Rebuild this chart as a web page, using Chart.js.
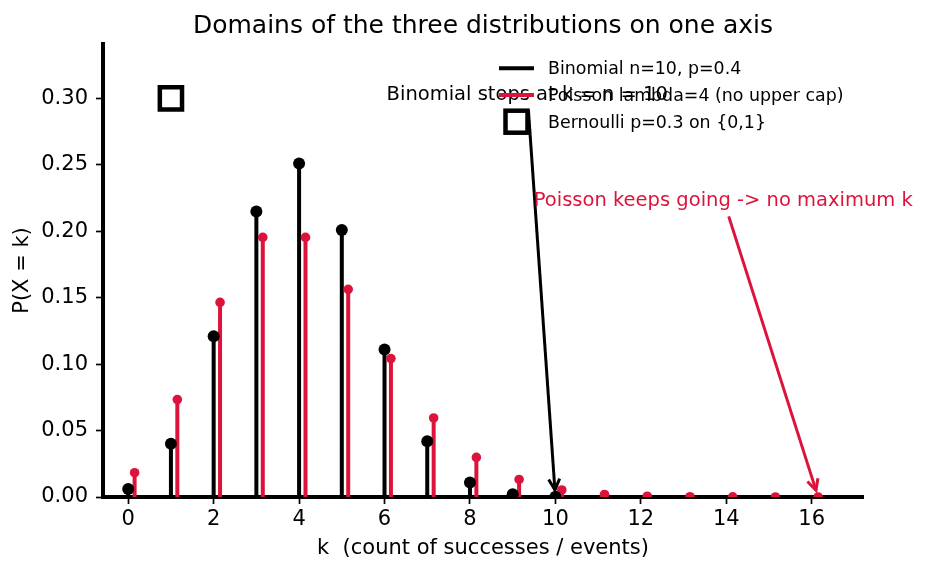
<!DOCTYPE html>
<html>
<head>
<meta charset="utf-8">
<script src="https://cdn.jsdelivr.net/npm/chart.js@4.4.1/dist/chart.umd.min.js"></script>
<style>
    html, body { margin: 0; padding: 0; background: #fff; }
    #wrap { width: 926px; height: 573px; }
</style>
</head>
<body>
<div id="wrap"><canvas id="chart" width="926" height="573"></canvas></div>
<script>
// ---- data ----
const binomK = [0, 1, 2, 3, 4, 5, 6, 7, 8, 9, 10];
const binomP = [0.006, 0.040, 0.121, 0.215, 0.251, 0.201, 0.111, 0.042, 0.011, 0.002, 0.0001];

const poissonK = [0, 1, 2, 3, 4, 5, 6, 7, 8, 9, 10, 11, 12, 13, 14, 15, 16];
const poissonP = [0.0183, 0.0733, 0.1465, 0.1954, 0.1954, 0.1563, 0.1042, 0.0595, 0.0298, 0.0132,
                  0.0053, 0.0019, 0.0006, 0.0002, 0.0001, 0.00003, 0.00001];
const poissonShift = 0.15;   // poisson stems sit a bit right of the integer

const bernK = [0, 1];
const bernP = [0.7, 0.3];

const xTickValues = [0, 2, 4, 6, 8, 10, 12, 14, 16];
const yTickValues = [0, 0.05, 0.10, 0.15, 0.20, 0.25, 0.30];
const xMin = -0.59, xMax = 17.2;
const yMin = 0, yMax = 0.341;

const legendLabels = ['Binomial n=10, p=0.4', 'Poisson lambda=4 (no upper cap)', 'Bernoulli p=0.3 on {0,1}'];

const noteTexts = ['Binomial stops at k = n = 10', 'Poisson keeps going -> no maximum k'];
const noteTextX = [9.34, 13.93];
const noteTextY = [0.2987, 0.2188];     // baseline of the text
const noteTargetX = [10, 16.15];
const noteTargetY = [0, 0];

const BLACK = '#000000';
const CRIMSON = '#dc143c';
const FONT = '"DejaVu Sans", sans-serif';

// stems: (k,0) -> (k,p) then a gap
function stems(ks, ps, shift) {
    const out = [];
    ks.forEach((k, i) => {
        out.push({ x: k + shift, y: 0 }, { x: k + shift, y: ps[i] }, { x: k + shift, y: null });
    });
    return out;
}
function points(ks, ps, shift) {
    return ks.map((k, i) => ({ x: k + shift, y: ps[i] }));
}

function drawArrow(ctx, x0, y0, x1, y1, color) {
    const ang = Math.atan2(y1 - y0, x1 - x0);
    ctx.strokeStyle = color;
    ctx.lineWidth = 3;
    ctx.lineJoin = 'miter';
    ctx.beginPath();
    ctx.moveTo(x0, y0);
    ctx.lineTo(x1, y1);
    ctx.stroke();
    const hl = 11, hw = 5.5;
    const c = Math.cos(ang), s = Math.sin(ang);
    ctx.beginPath();
    ctx.moveTo(x1 - hl * c + hw * s, y1 - hl * s - hw * c);
    ctx.lineTo(x1, y1);
    ctx.lineTo(x1 - hl * c - hw * s, y1 - hl * s + hw * c);
    ctx.stroke();
}

// title, annotations and legend drawn on top
const overlay = {
    id: 'overlay',
    afterDatasetsDraw(chart) {
        const { ctx, chartArea: a, scales: { x, y } } = chart;
        ctx.save();

        // annotations
        noteTexts.forEach((txt, i) => {
            const color = i === 0 ? BLACK : CRIMSON;
            const tx = x.getPixelForValue(noteTextX[i]);
            const ty = y.getPixelForValue(noteTextY[i]);
            ctx.font = '19.5px ' + FONT;
            ctx.fillStyle = color;
            ctx.textAlign = 'center';
            ctx.textBaseline = 'alphabetic';
            ctx.fillText(txt, tx, ty);

            const cx = tx, cy = ty - 7;
            const px = x.getPixelForValue(noteTargetX[i]);
            const py = y.getPixelForValue(noteTargetY[i]);
            const dx = px - cx, dy = py - cy;
            const len = Math.hypot(dx, dy);
            const ux = dx / len, uy = dy / len;
            const startT = 17 / Math.abs(uy);
            drawArrow(ctx, cx + ux * startT, cy + uy * startT, px - ux * 7, py - uy * 7, color);
        });

        // legend (no frame)
        const lx0 = a.right - 364, lx1 = a.right - 329, tx = a.right - 315;
        const rows = [a.top + 24.3, a.top + 51, a.top + 77.7];
        ctx.lineWidth = 4;
        ctx.strokeStyle = BLACK;
        ctx.beginPath(); ctx.moveTo(lx0, rows[0]); ctx.lineTo(lx1, rows[0]); ctx.stroke();
        ctx.strokeStyle = CRIMSON;
        ctx.beginPath(); ctx.moveTo(lx0, rows[1]); ctx.lineTo(lx1, rows[1]); ctx.stroke();
        ctx.strokeStyle = BLACK;
        ctx.lineWidth = 4.5;
        const mid = (lx0 + lx1) / 2, half = 11;
        ctx.strokeRect(mid - half, rows[2] - half, half * 2, half * 2);

        ctx.font = '17.4px ' + FONT;
        ctx.fillStyle = BLACK;
        ctx.textAlign = 'left';
        ctx.textBaseline = 'middle';
        legendLabels.forEach((lab, i) => ctx.fillText(lab, tx, rows[i] + 1.5));

        // title
        ctx.font = '25px ' + FONT;
        ctx.fillStyle = BLACK;
        ctx.textAlign = 'center';
        ctx.textBaseline = 'alphabetic';
        ctx.fillText('Domains of the three distributions on one axis', (a.left + a.right) / 2, 33);

        ctx.restore();
    }
};

const tickFont = { family: FONT, size: 21 };

new Chart(document.getElementById('chart').getContext('2d'), {
    type: 'line',
    data: {
        datasets: [
            {
                label: 'Bernoulli',
                type: 'scatter',
                data: points(bernK, bernP, 0),
                pointStyle: 'rect',
                pointRadius: 15.7,
                pointBackgroundColor: 'rgba(0,0,0,0)',
                pointBorderColor: BLACK,
                pointBorderWidth: 4.5,
                showLine: false,
                order: 0
            },
            {
                label: 'Binomial markers',
                type: 'scatter',
                data: points(binomK, binomP, 0),
                pointRadius: 6,
                pointBackgroundColor: BLACK,
                pointBorderWidth: 0,
                showLine: false,
                order: 1
            },
            {
                label: 'Poisson markers',
                type: 'scatter',
                data: points(poissonK, poissonP, poissonShift),
                pointRadius: 4.8,
                pointBackgroundColor: CRIMSON,
                pointBorderWidth: 0,
                showLine: false,
                order: 2
            },
            {
                label: 'Poisson stems',
                data: stems(poissonK, poissonP, poissonShift),
                borderColor: CRIMSON,
                borderWidth: 4,
                pointRadius: 0,
                spanGaps: false,
                tension: 0,
                order: 3
            },
            {
                label: 'Binomial stems',
                data: stems(binomK, binomP, 0),
                borderColor: BLACK,
                borderWidth: 4,
                pointRadius: 0,
                spanGaps: false,
                tension: 0,
                order: 4
            }
        ]
    },
    options: {
        responsive: false,
        animation: false,
        events: [],
        layout: { padding: { top: 44, right: 63, left: 0, bottom: 0 } },
        plugins: {
            legend: { display: false },
            tooltip: { enabled: false },
            title: { display: false }
        },
        scales: {
            x: {
                type: 'linear',
                min: xMin,
                max: xMax,
                afterBuildTicks: s => { s.ticks = xTickValues.map(v => ({ value: v })); },
                afterFit: s => { s.height = 76; },
                grid: { display: true, drawOnChartArea: false, drawTicks: true, tickLength: 7, tickWidth: 1.7, tickColor: BLACK },
                border: { display: true, color: BLACK, width: 4 },
                ticks: { font: tickFont, color: BLACK, padding: 3, maxRotation: 0, autoSkip: false, callback: v => String(v) },
                title: { display: true, text: 'k  (count of successes / events)', font: tickFont, color: BLACK, padding: { top: 0, bottom: 12 } }
            },
            y: {
                type: 'linear',
                min: yMin,
                max: yMax,
                afterBuildTicks: s => { s.ticks = yTickValues.map(v => ({ value: v })); },
                afterFit: s => { s.width = 103; },
                grid: { display: true, drawOnChartArea: false, drawTicks: true, tickLength: 7, tickWidth: 1.7, tickColor: BLACK },
                border: { display: true, color: BLACK, width: 4 },
                ticks: { font: tickFont, color: BLACK, padding: 8, callback: v => v.toFixed(2) },
                title: { display: true, text: 'P(X = k)', font: tickFont, color: BLACK, padding: { top: 10, bottom: 0 } }
            }
        }
    },
    plugins: [overlay]
});
</script>
</body>
</html>
